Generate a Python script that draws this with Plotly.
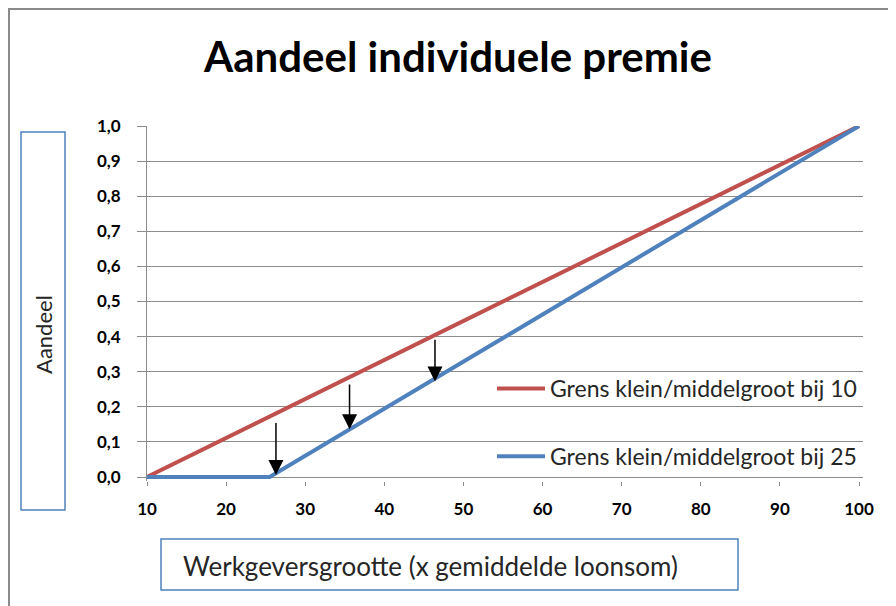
import plotly.graph_objects as go

# ---------------- data ----------------
red_name = "Grens klein/middelgroot bij 10"
red_x = [10, 100]
red_y = [0.0, 1.0]

blue_name = "Grens klein/middelgroot bij 25"
blue_x = [10, 25.5, 100]
blue_y = [0.0, 0.0, 1.0]

# arrows (x position, start value on red line, end value on blue line)
arrow_x = [26.3, 35.6, 46.4]
arrow_from = [0.158, 0.268, 0.395]
arrow_to = [0.006, 0.136, 0.272]

x_ticks = [10, 20, 30, 40, 50, 60, 70, 80, 90, 100]
y_ticks = [0.0, 0.1, 0.2, 0.3, 0.4, 0.5, 0.6, 0.7, 0.8, 0.9, 1.0]

title_text = "Aandeel individuele premie"
y_title = "Aandeel"
x_title = "Werkgeversgrootte (x gemiddelde loonsom)"

# ---------------- layout geometry ----------------
OFF = 8  # page body margin
W, H = 896 - OFF, 606 - OFF
ML, MR, MT, MB = 147 - OFF, 33, 126 - OFF, 125
PW = W - ML - MR
PH = H - MT - MB


def px_x(px):
    return (px - OFF - ML) / PW


def px_y(py):
    return (H - MB - (py - OFF)) / PH


FONT = "Lato"
GRID = "#8c8c8c"
RED = "#C0504D"
BLUE = "#4F81BD"

fig = go.Figure()
fig.add_trace(go.Scatter(x=red_x, y=red_y, mode="lines", name=red_name,
                         line=dict(color=RED, width=4), legendgroup="a"))
fig.add_trace(go.Scatter(x=blue_x, y=blue_y, mode="lines", name=blue_name,
                         line=dict(color=BLUE, width=4), legendgroup="b"))

annotations = []
for xv, y0, y1 in zip(arrow_x, arrow_from, arrow_to):
    annotations.append(dict(x=xv, y=y1, ax=xv, ay=y0, xref="x", yref="y",
                            axref="x", ayref="y", showarrow=True, text="",
                            arrowhead=2, arrowsize=2.0, arrowwidth=1.5,
                            arrowcolor="black"))

# y title in box
annotations.append(dict(x=px_x(43), y=px_y(334), xref="paper", yref="paper",
                        text=y_title, showarrow=False, textangle=-90,
                        font=dict(family=FONT, size=22, color="#262626"),
                        xanchor="center", yanchor="middle"))
# x title in box
annotations.append(dict(x=px_x(430), y=px_y(566), xref="paper", yref="paper",
                        text=x_title, showarrow=False,
                        font=dict(family=FONT, size=26, color="#262626"),
                        xanchor="center", yanchor="middle"))

shapes = [
    # outer chart border (extends beyond right/bottom edges as in the reference)
    dict(type="rect", xref="paper", yref="paper",
         x0=px_x(OFF + 1), x1=px_x(905), y0=px_y(OFF + 1), y1=px_y(615),
         line=dict(color="#8a8a8a", width=2), fillcolor="rgba(0,0,0,0)", layer="below"),
    # y title box
    dict(type="rect", xref="paper", yref="paper",
         x0=px_x(21), x1=px_x(65), y0=px_y(132), y1=px_y(510),
         line=dict(color=BLUE, width=1.5)),
    # x title box
    dict(type="rect", xref="paper", yref="paper",
         x0=px_x(161), x1=px_x(738), y0=px_y(539), y1=px_y(590),
         line=dict(color=BLUE, width=1.5)),
]

fig.update_layout(
    width=W, height=H,
    margin=dict(l=ML, r=MR, t=MT, b=MB, pad=0),
    paper_bgcolor="white", plot_bgcolor="white",
    separators=",.",
    font=dict(family=FONT, color="black"),
    title=dict(text="<b>" + title_text + "</b>", x=(458 - OFF) / W, y=1 - (57 - OFF) / H,
               xref="container", yref="container", xanchor="center", yanchor="middle",
               font=dict(family=FONT, size=42, color="black")),
    xaxis=dict(range=[10, 100.5], tickmode="array", tickvals=x_ticks,
               ticktext=[str(v) for v in x_ticks],
               showgrid=False, zeroline=False, showline=False,
               ticks="outside", ticklen=4, tickcolor=GRID, tickwidth=1,
               ticklabelstandoff=9,
               tickfont=dict(family=FONT, size=17, color="black", weight="bold")),
    yaxis=dict(range=[-4 / 351, 1.0], tickmode="array", tickvals=y_ticks,
               tickformat=".1f",
               showgrid=True, gridcolor=GRID, gridwidth=1,
               zeroline=True, zerolinecolor=GRID, zerolinewidth=1,
               showline=True, linecolor=GRID, linewidth=1,
               ticks="outside", ticklen=9, tickcolor=GRID, tickwidth=1,
               ticklabelstandoff=13,
               tickfont=dict(family=FONT, size=17, color="black", weight="bold")),
    showlegend=True,
    legend=dict(x=px_x(492), y=px_y(367), xanchor="left", yanchor="top",
                bgcolor="rgba(0,0,0,0)", tracegroupgap=35, itemwidth=48,
                font=dict(family=FONT, size=23, color="#262626")),
    annotations=annotations,
    shapes=shapes,
)

fig.write_html("out.html")
